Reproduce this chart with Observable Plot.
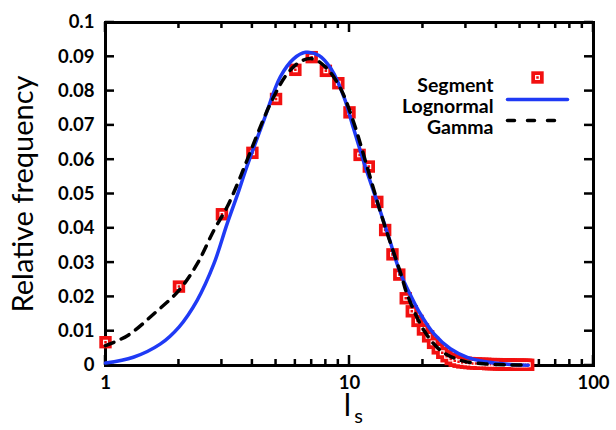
<!DOCTYPE html>
<html><head><meta charset="utf-8">
<script src="https://cdn.jsdelivr.net/npm/d3@7"></script>
<script src="https://cdn.jsdelivr.net/npm/@observablehq/plot@0.6"></script>
<style>html,body{margin:0;padding:0;background:#fff} svg{display:block}</style>
</head><body><div id="chart"></div>
<script>
// Segment (observed relative frequencies)
const segmentX = [1,2,3,4,5,6,7,8,9,10,11,12,13,14,15,16,17,18,19,20,21,22,23,24,25,26,27,28,29,30,31,32,33,34,35,36,37,38,39,40,41,42,43,44,45,46,47,48,49,50,51,52,53,54];
const segmentY = [0.0068,0.0230,0.0441,0.0620,0.0777,0.0862,0.0899,0.0859,0.0823,0.0738,0.0614,0.0580,0.0477,0.0395,0.0324,0.0265,0.0196,0.0158,0.0130,0.0105,0.0085,0.0066,0.0050,0.0037,0.0027,0.0019,0.0014,0.0011,0.0009,0.0008,0.0007,0.0006,0.0006,0.0005,0.0005,0.0005,0.0004,0.0004,0.0004,0.0004,0.0003,0.0003,0.0003,0.0003,0.0003,0.0003,0.0002,0.0002,0.0002,0.0002,0.0002,0.0002,0.0002,0.0002];
// Lognormal fit
const lognormalX = [1,1.3,1.68,2.0,2.375,2.78,3.15,3.52,3.75,4.45,5.2,5.9,6.6,7.5,8.4,9.5,10.4,11.6,13,14.5,16.2,17.8,19.5,22.2,25.9,30.4,36.7,45.7,54];
const lognormalY = [0.0007,0.0024,0.0063,0.0112,0.0190,0.0296,0.0413,0.0510,0.0569,0.0714,0.0841,0.0894,0.0913,0.0904,0.0865,0.0782,0.0690,0.0580,0.0476,0.0373,0.0267,0.0205,0.0151,0.0092,0.0049,0.0024,0.0010,0.0003,0.0001];
// Gamma fit
const gammaX = [1,1.23,1.58,2.0,2.375,2.78,3.15,3.5,3.8,4.74,5.55,6.4,7.1,8.1,9.2,10.4,11.6,13.6,16.4,17.2,20.2,23.6,28.5,35.5,45,54];
const gammaY = [0.0058,0.0087,0.0151,0.0219,0.0296,0.0394,0.0462,0.0535,0.0598,0.0763,0.0850,0.0889,0.0894,0.0865,0.0807,0.0709,0.0598,0.0432,0.0257,0.0209,0.0102,0.0044,0.0015,0.0005,0.0002,0.0001];

const yTicks = [0,0.01,0.02,0.03,0.04,0.05,0.06,0.07,0.08,0.09,0.1];
const xMajorTicks = [1,10,100];
const xMinorTicks = [2,3,4,5,6,7,8,9,20,30,40,50,60,70,80,90];
const legendLabels = ["Segment","Lognormal","Gamma"];

const segment = segmentX.map((x,i)=>({x, y: segmentY[i]}));
const lognormal = lognormalX.map((x,i)=>({x, y: lognormalY[i]}));
const gamma = gammaX.map((x,i)=>({x, y: gammaY[i]}));

const RED = "#f21010", BLUE = "#1f3af5";
const FONT = "Lato, 'Open Sans', sans-serif";
const lineShape = {draw(ctx, l){ ctx.moveTo(0,0); ctx.lineTo(0,-l); }};

// plot geometry, used to turn tick lengths in pixels into data units
const W = 616, H = 430, ML = 105, MR = 23, MT = 22, MB = 65;
const pxPerDecade = (W - ML - MR) / 2;
const yPerPx = 0.1 / (H - MT - MB);
const xLen = px => Math.pow(10, px / pxPerDecade);
const HALF = 1.25; // tick half-thickness in px

// inward tick marks drawn as thin filled rectangles
const yTickRect = (side) => Plot.rect(yTicks, {
  x1: side === "left" ? 1 : 100 / xLen(9), x2: side === "left" ? xLen(9) : 100,
  y1: d => d - HALF*yPerPx, y2: d => d + HALF*yPerPx, fill: "black"
});
const xTickRect = (data, len, side) => Plot.rect(data, {
  x1: d => d / xLen(HALF), x2: d => d * xLen(HALF),
  y1: side === "bottom" ? 0 : 0.1 - len*yPerPx, y2: side === "bottom" ? len*yPerPx : 0.1, fill: "black"
});

const marks = [
  Plot.frame({stroke:"black", strokeWidth:3}),
  yTickRect("left"), yTickRect("right"),
  xTickRect(xMajorTicks, 10, "bottom"), xTickRect(xMinorTicks, 6, "bottom"),
  xTickRect(xMajorTicks, 10, "top"), xTickRect(xMinorTicks, 6, "top"),
  // tick labels
  Plot.axisY(yTicks, {anchor:"left", tickSize:0, tickPadding:11, tickFormat: d => String(+d.toFixed(2)), fontSize:18.5, fontWeight:700, label:null}),
  Plot.axisX(xMajorTicks, {anchor:"bottom", tickSize:0, tickPadding:10, tickFormat: d => String(d), fontSize:18.5, fontWeight:700, label:null}),
  // data
  Plot.dot(segment, {x:"x", y:"y", symbol:"square", r:7, fill:RED}),
  Plot.dot(segment, {x:"x", y:"y", symbol:"square", r:2.1, fill:RED, stroke:"white", strokeWidth:1.2}),
  Plot.line(lognormal, {x:"x", y:"y", stroke:BLUE, strokeWidth:3.5, curve:"catmull-rom"}),
  Plot.line(gamma, {x:"x", y:"y", stroke:"black", strokeWidth:3.5, strokeDasharray:"9,8", curve:"catmull-rom"}),
  // axis titles
  Plot.text(["Relative frequency"], {text:d=>d, frameAnchor:"left", textAnchor:"middle", rotate:-90, dx:-82, fontSize:29, fontWeight:400}),
  Plot.text(["l"], {text:d=>d, frameAnchor:"bottom", textAnchor:"middle", dx:-2, dy:50, fontSize:31, fontWeight:400}),
  Plot.text(["s"], {text:d=>d, frameAnchor:"bottom", textAnchor:"middle", dx:9, dy:57, fontSize:20, fontWeight:400}),
  // legend
  ...legendLabels.map((t,i)=>Plot.text([t], {text:d=>d, frameAnchor:"top-right", dx:-100, dy:56+21*i, textAnchor:"end", fontSize:19.5, fontWeight:700})),
  Plot.dot([legendLabels[0]], {frameAnchor:"top-right", dx:-56, dy:55, symbol:"square", r:7, fill:RED}),
  Plot.dot([legendLabels[0]], {frameAnchor:"top-right", dx:-56, dy:55, symbol:"square", r:2.1, fill:RED, stroke:"white", strokeWidth:1.2}),
  Plot.vector([legendLabels[1]], {frameAnchor:"top-right", dx:-86, dy:77, rotate:90, length:60, anchor:"start", shape: lineShape, stroke:BLUE, strokeWidth:3.5}),
  Plot.vector([legendLabels[2]], {frameAnchor:"top-right", dx:-86, dy:98, rotate:90, length:60, anchor:"start", shape: lineShape, stroke:"black", strokeWidth:3.5, strokeDasharray:"7,13"})
];

const chart = Plot.plot({
  width:W, height:H,
  marginLeft:ML, marginRight:MR, marginTop:MT, marginBottom:MB,
  x:{type:"log", domain:[1,100]},
  y:{domain:[0,0.1]},
  style:{fontFamily:FONT, color:"black", background:"white", overflow:"visible"},
  marks
});
document.getElementById("chart").appendChild(chart);
</script>
</body></html>
